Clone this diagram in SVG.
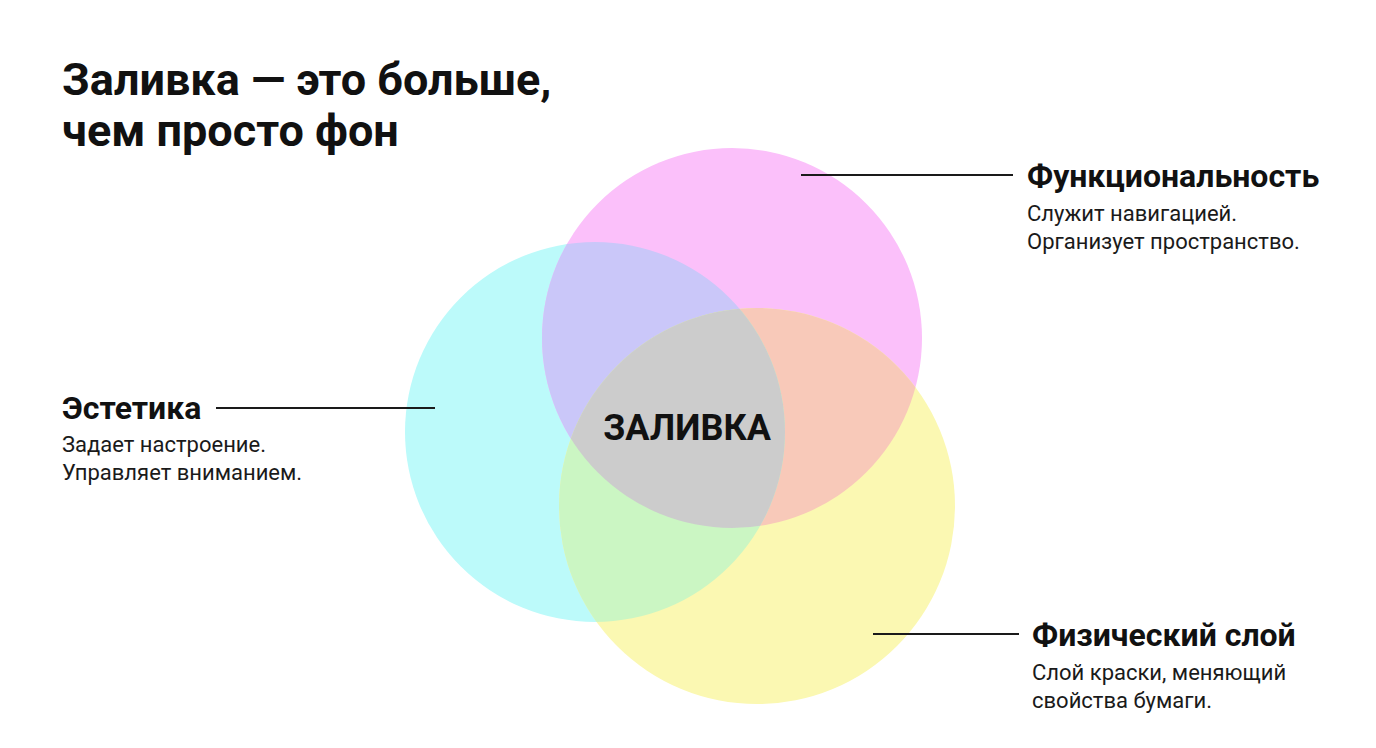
<svg xmlns="http://www.w3.org/2000/svg" width="1376" height="748" viewBox="0 0 1376 748">
<style>
.title{font-family:Roboto,"Liberation Sans",sans-serif;font-weight:700;font-size:45px;fill:#111}
.head{font-family:Roboto,"Liberation Sans",sans-serif;font-weight:700;font-size:32px;fill:#111}
.body{font-family:Roboto,"Liberation Sans",sans-serif;font-weight:400;font-size:22px;fill:#1a1a1a}
.center{font-family:Roboto,"Liberation Sans",sans-serif;font-weight:700;font-size:36px;fill:#111}
.conn{stroke:#1a1a1a;stroke-width:2;fill:none}
</style>
<defs>
<clipPath id="cC"><circle cx="595" cy="432" r="190"/></clipPath>
<clipPath id="cM"><circle cx="732" cy="338" r="190"/></clipPath>
<clipPath id="cY"><circle cx="757" cy="506" r="198"/></clipPath>
</defs>
<rect width="1376" height="748" fill="#ffffff"/>
<g id="title">
<text class="title" x="62" y="95">Заливка — это больше,</text>
<text class="title" x="62" y="146">чем просто фон</text>
</g>
<g id="venn">
<circle cx="595" cy="432" r="190" fill="#bcfafa"/>
<circle cx="732" cy="338" r="190" fill="#fbc0fa"/>
<circle cx="757" cy="506" r="198" fill="#fbf8b2"/>
<g clip-path="url(#cC)"><circle cx="732" cy="338" r="190" fill="#cac7f9"/></g>
<g clip-path="url(#cM)"><circle cx="757" cy="506" r="198" fill="#f8c9b9"/></g>
<g clip-path="url(#cC)"><circle cx="757" cy="506" r="198" fill="#cbf6c3"/></g>
<g clip-path="url(#cC)"><g clip-path="url(#cM)"><circle cx="757" cy="506" r="198" fill="#cccccc"/></g></g>
</g>
<g id="connectors">
<line class="conn" x1="801" y1="175" x2="1013" y2="175"/>
<line class="conn" x1="216" y1="408" x2="435" y2="408"/>
<line class="conn" x1="873" y1="634" x2="1019" y2="634"/>
</g>
<g id="node-center">
<text class="center" x="687" y="440" text-anchor="middle">ЗАЛИВКА</text>
</g>
<g id="node-func">
<text class="head" x="1027" y="187">Функциональность</text>
<text class="body" x="1027" y="221">Служит навигацией.</text>
<text class="body" x="1027" y="249">Организует пространство.</text>
</g>
<g id="node-aesth">
<text class="head" x="62" y="419">Эстетика</text>
<text class="body" x="62" y="452">Задает настроение.</text>
<text class="body" x="62" y="480">Управляет вниманием.</text>
</g>
<g id="node-phys">
<text class="head" x="1032" y="646">Физический слой</text>
<text class="body" x="1032" y="680">Слой краски, меняющий</text>
<text class="body" x="1032" y="708">свойства бумаги.</text>
</g>
</svg>
